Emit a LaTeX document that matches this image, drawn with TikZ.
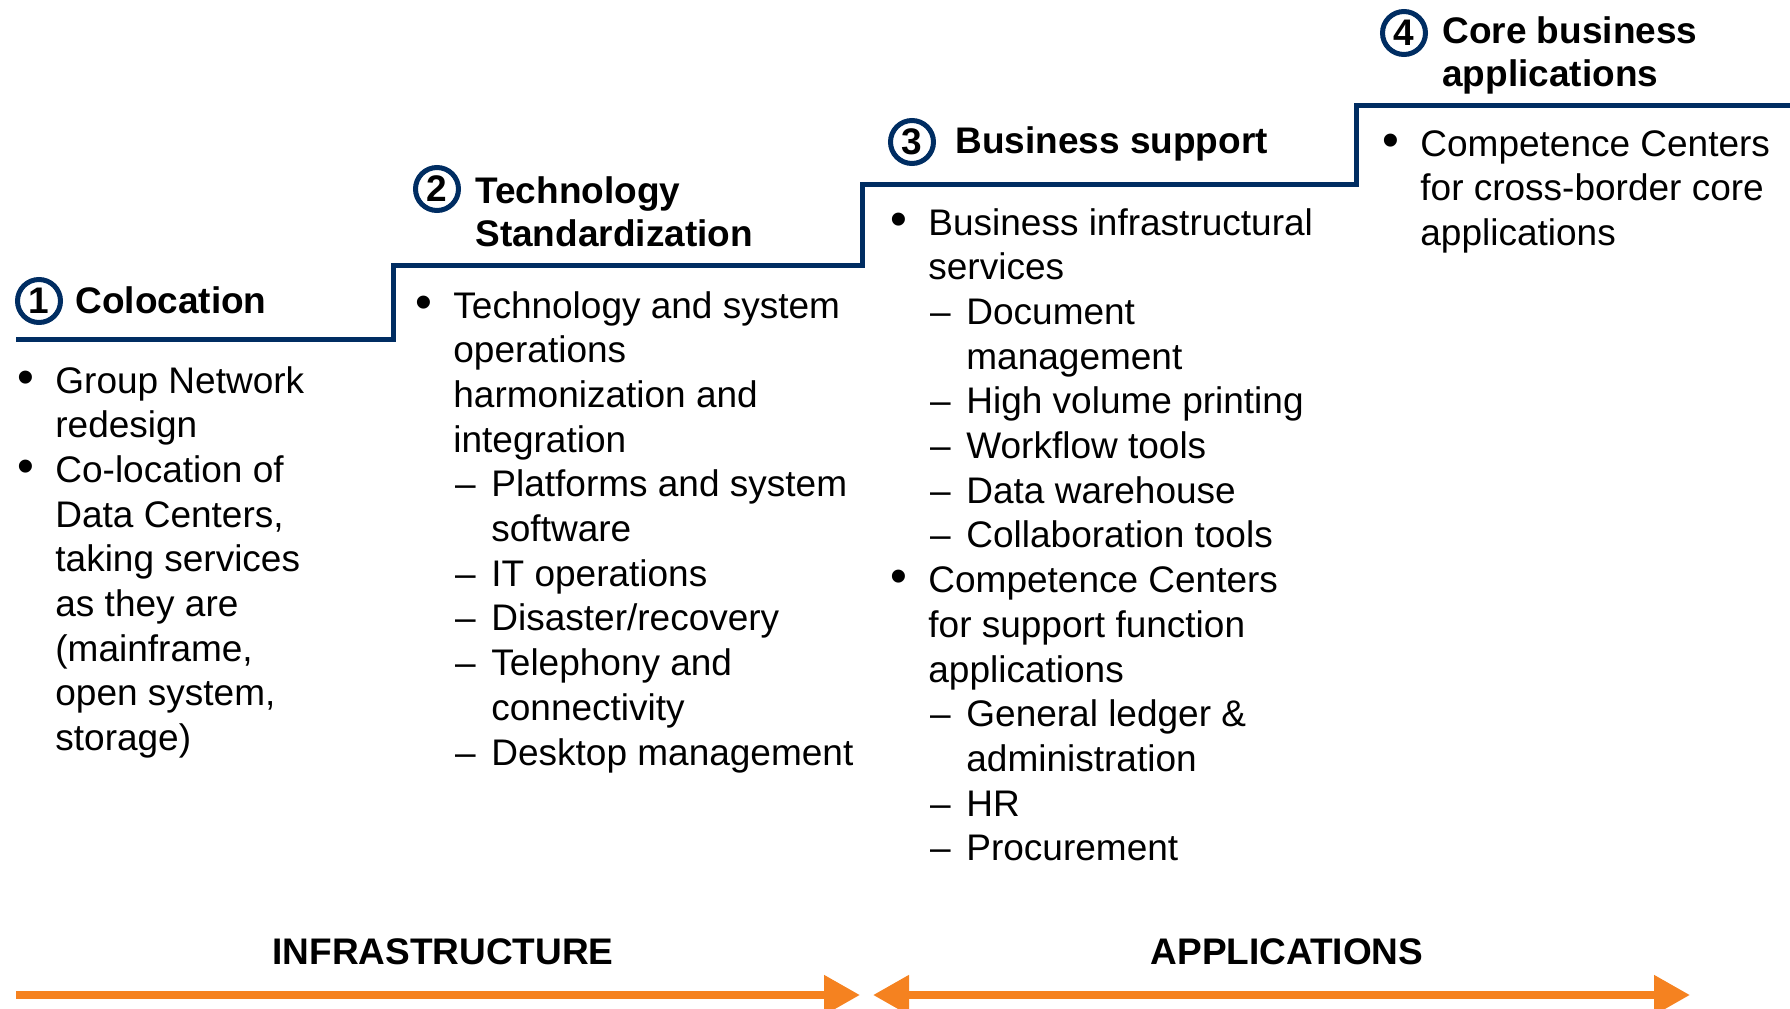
\documentclass[tikz,border=0pt]{standalone}
\usepackage{fontspec}
\setmainfont{Liberation Sans}
\usetikzlibrary{arrows.meta}
\definecolor{navy}{RGB}{0,45,98}
\definecolor{orng}{RGB}{245,130,32}
% bullet and dash hang to the left of the line
\newcommand\bul{\llap{{\fontsize{24}{24}\selectfont\textbullet}\hspace{10.5pt}}}
\newcommand\dsh{\llap{--\hspace{7.9pt}}}

\begin{document}
\begin{tikzpicture}[x=0.5pt,y=-0.5pt,
  txt/.style={font=\fontsize{18.5}{22}\selectfont,anchor=base west,inner sep=0pt},
  head/.style={txt,font=\fontsize{18.5}{22}\selectfont\bfseries},
  num/.style={circle,draw=navy,line width=2.5pt,minimum size=21.5pt,inner sep=0pt,
    font=\fontsize{18.5}{22}\selectfont\bfseries},
  stair/.style={draw=navy,line width=2.5pt},
  flow/.style={draw=orng,line width=4pt,>={Triangle[length=18pt,width=19pt]}}]
\useasboundingbox (0,0) rectangle (1790,1008);

% the four steps
\draw[stair] (16,339) -| (393,265) -| (862,184) -| (1356,105) -- (1790,105);

\node[num] (n1) at (39,301) {1};
\node[head] (h1) at (75,313) {Colocation};
\node[num] (n2) at (437,189) {2};
\node[head] (h2a) at (475,203) {Technology};
\node[head] (h2b) at (475,246) {Standardization};
\node[num] (n3) at (912,142) {3};
\node[head] (h3) at (955,153) {Business support};
\node[num] (n4) at (1404,33) {4};
\node[head] (h4a) at (1442,43) {Core business};
\node[head] (h4b) at (1442,86) {applications};

% step contents, one node per line
\foreach \k/\t [count=\i from 0] in {0/\bul Group Network, 0/redesign,
    0/\bul Co-location of, 0/{Data Centers,}, 0/taking services, 0/as they are,
    0/{(mainframe,}, 0/{open system,}, 0/storage)}
  \node[txt] (c1-\i) at (55+38*\k, 393+44.7*\i) {\t};

\foreach \k/\t [count=\i from 0] in {0/\bul Technology and system, 0/operations,
    0/harmonization and, 0/integration, 1/\dsh Platforms and system, 1/software,
    1/\dsh IT operations, 1/{\dsh Disaster/recovery}, 1/\dsh Telephony and,
    1/connectivity, 1/\dsh Desktop management}
  \node[txt] (c2-\i) at (453+38*\k, 318+44.7*\i) {\t};

\foreach \k/\t [count=\i from 0] in {0/\bul Business infrastructural, 0/services,
    1/\dsh Document, 1/management, 1/\dsh High volume printing, 1/\dsh Workflow tools,
    1/\dsh Data warehouse, 1/\dsh Collaboration tools, 0/\bul Competence Centers,
    0/for support function, 0/applications, 1/\dsh General ledger \&,
    1/administration, 1/\dsh HR, 1/\dsh Procurement}
  \node[txt] (c3-\i) at (928+38*\k, 235+44.7*\i) {\t};

\foreach \k/\t [count=\i from 0] in {0/\bul Competence Centers,
    0/for cross-border core, 0/applications}
  \node[txt] (c4-\i) at (1420+38*\k, 156+44.7*\i) {\t};

% bottom arrows
\node[head,anchor=base] (infra) at (443,964) {INFRASTRUCTURE};
\node[head,anchor=base] (apps) at (1287,964) {APPLICATIONS};
\coordinate (i0) at (16,995);
\coordinate (i1) at (860,995);
\coordinate (a0) at (873,995);
\coordinate (a1) at (1690,995);
\draw[flow,->] (i0) -- (i1);
\draw[flow,<->] (a0) -- (a1);
\end{tikzpicture}
\end{document}
